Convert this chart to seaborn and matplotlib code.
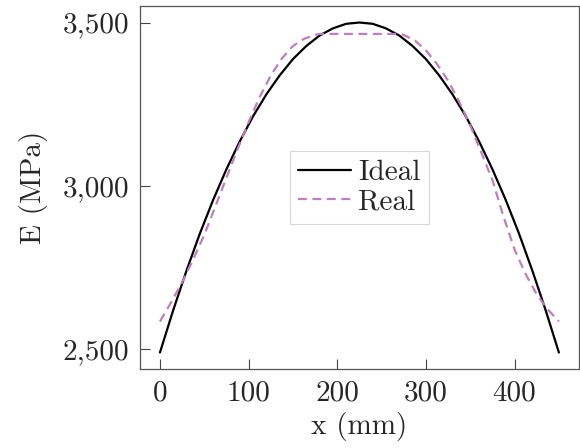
import numpy as np
import pandas as pd
import matplotlib
matplotlib.use("Agg")
import matplotlib.pyplot as plt
import seaborn as sns
from matplotlib.ticker import FuncFormatter

# Data
x_ideal = [0, 15, 30, 45, 60, 75, 90, 105, 120, 135, 150, 165, 180, 195, 210, 225,
           240, 255, 270, 285, 300, 315, 330, 345, 360, 375, 390, 405, 420, 435, 450]
e_ideal = [2490, 2620, 2741, 2854, 2957, 3051, 3136, 3213, 3280, 3338, 3388, 3428, 3460, 3482, 3496, 3500,
           3496, 3482, 3460, 3428, 3388, 3338, 3280, 3213, 3136, 3051, 2957, 2854, 2741, 2620, 2490]

x_real = [0, 12.5, 25, 37.5, 50, 62.5, 75, 87.5, 100, 112.5, 125, 137.5, 150, 162.5, 175, 180,
          225, 270, 275, 287.5, 300, 312.5, 325, 337.5, 350, 362.5, 375, 387.5, 400, 412.5, 425, 437.5, 450]
e_real = [2585, 2643, 2705, 2775, 2850, 2937, 3025, 3112, 3195, 3272, 3338, 3390, 3428, 3450, 3462, 3465,
          3465, 3465, 3462, 3445, 3415, 3373, 3322, 3258, 3185, 3102, 3018, 2906, 2805, 2730, 2668, 2622, 2585]

xticks = [0, 100, 200, 300, 400]
yticks = [2500, 3000, 3500]

sns.set_theme(style="ticks")
plt.rcParams['font.family'] = ['cmr10', 'DejaVu Serif']
plt.rcParams['axes.unicode_minus'] = False

fig = plt.figure(figsize=(5.8, 4.48), dpi=100)
ax = fig.add_axes([0.2414, 0.1763, 0.7566, 0.8103])

df_i = pd.DataFrame({"x": x_ideal, "E": e_ideal})
df_r = pd.DataFrame({"x": x_real, "E": e_real})

sns.lineplot(data=df_i, x="x", y="E", ax=ax, color="black", lw=1.6, label="Ideal")
sns.lineplot(data=df_r, x="x", y="E", ax=ax, color="#bf7fbf", lw=1.6, label="Real",
             linestyle=(0, (4, 2.5)))

ax.set_xlim(-22.5, 472.5)
ax.set_ylim(2439.5, 3550.5)
ax.set_xticks(xticks)
ax.set_yticks(yticks)
ax.yaxis.set_major_formatter(FuncFormatter(lambda v, p: f"{v:,.0f}"))
ax.tick_params(direction="in", length=7, width=0.8, color="#444444",
               labelsize=21, bottom=True, left=True, top=False, right=False, pad=8)
for s in ax.spines.values():
    s.set_visible(True)
    s.set_color("#555555")
    s.set_linewidth(0.9)

ax.set_xlabel("x (mm)", fontsize=21, labelpad=4)
ax.set_ylabel("E (MPa)", fontsize=21, labelpad=10)

leg = ax.legend(loc="center", fontsize=21, frameon=True, fancybox=False,
                handlelength=1.8, handletextpad=0.25, borderpad=0.3, labelspacing=0.1)
leg.get_frame().set_edgecolor("#d0d0d0")
leg.get_frame().set_linewidth(0.8)

fig.savefig("out.png", dpi=100)
